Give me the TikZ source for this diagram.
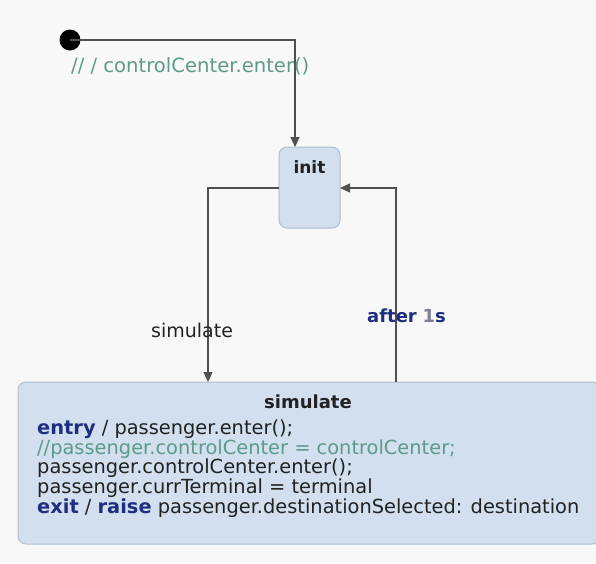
\documentclass[tikz,border=0pt]{standalone}
\usepackage{fontspec}
\setmainfont{DejaVu Sans}
\usetikzlibrary{arrows.meta}
\definecolor{bgcol}{HTML}{F8F8F8}
\definecolor{statefill}{HTML}{D1DFEF}
\definecolor{stateline}{HTML}{AFBFCF}
\definecolor{edgecol}{HTML}{505050}
\definecolor{kwcol}{HTML}{1F2F7F}
\definecolor{numcol}{HTML}{7A8090}
\definecolor{cmtcol}{HTML}{5E9A8A}
\definecolor{txtcol}{HTML}{222222}
\newcommand{\kw}[1]{{\bfseries\color{kwcol}#1}}
\tikzset{
  x=1pt, y=-1pt,
  every node/.style={font=\fontsize{18}{21}\selectfont, text=txtcol, inner sep=0pt},
  statebox/.style={draw=stateline, line width=1pt, fill=statefill, rounded corners=8pt},
  transition/.style={draw=edgecol, line width=1.1pt, -{Triangle[length=10pt,width=9pt]}},
  lbl/.style={anchor=base west}
}
\begin{document}
\begin{tikzpicture}
% canvas
\fill[bgcol] (0,0) rectangle (596,563);
\useasboundingbox (0,0) rectangle (596,563);

% states
\path[statebox] (279,147) rectangle (340,228);
\node[anchor=base, font=\fontsize{17}{20}\selectfont\bfseries] (initlabel) at (309.5,173) {init};
\coordinate (initTop) at (295,147);
\coordinate (initLeft) at (279,188);
\coordinate (initRight) at (340,188);

\path[statebox] (18,382) rectangle (600,544);
\node[anchor=base, font=\fontsize{18}{20}\selectfont\bfseries] (simlabel) at (308,408) {simulate};
% anchored on the baseline of the last line
\node[anchor=base west, align=left, font=\fontsize{19.4}{19.6}\selectfont] (simbody) at (37,513) {%
  \kw{entry} / passenger.enter();\\
  {\color{cmtcol}//passenger.controlCenter = controlCenter;}\\
  passenger.controlCenter.enter();\\
  passenger.currTerminal = terminal\\
  \kw{exit} / \kw{raise} passenger.destinationSelected: destination};
\coordinate (simTopL) at (208,382);
\coordinate (simTopR) at (396,382);

% initial pseudostate
\node[circle, fill=black, minimum size=21pt] (start) at (70,40) {};

% transitions
\draw[transition] (start.center) -| (initTop);
\node[lbl, text=cmtcol, font=\fontsize{19.6}{20}\selectfont] (startlbl) at (71,72) {// / controlCenter.enter()};

\draw[transition] (initLeft) -| (simTopL);
\node[lbl, font=\fontsize{19}{20}\selectfont] (simlbl) at (151,337) {simulate};

\draw[transition] (simTopR) |- (initRight);
\node[lbl] (afterlbl) at (367,322) {\kw{after} {\bfseries\color{numcol}1}\kw{s}};
\end{tikzpicture}
\end{document}
